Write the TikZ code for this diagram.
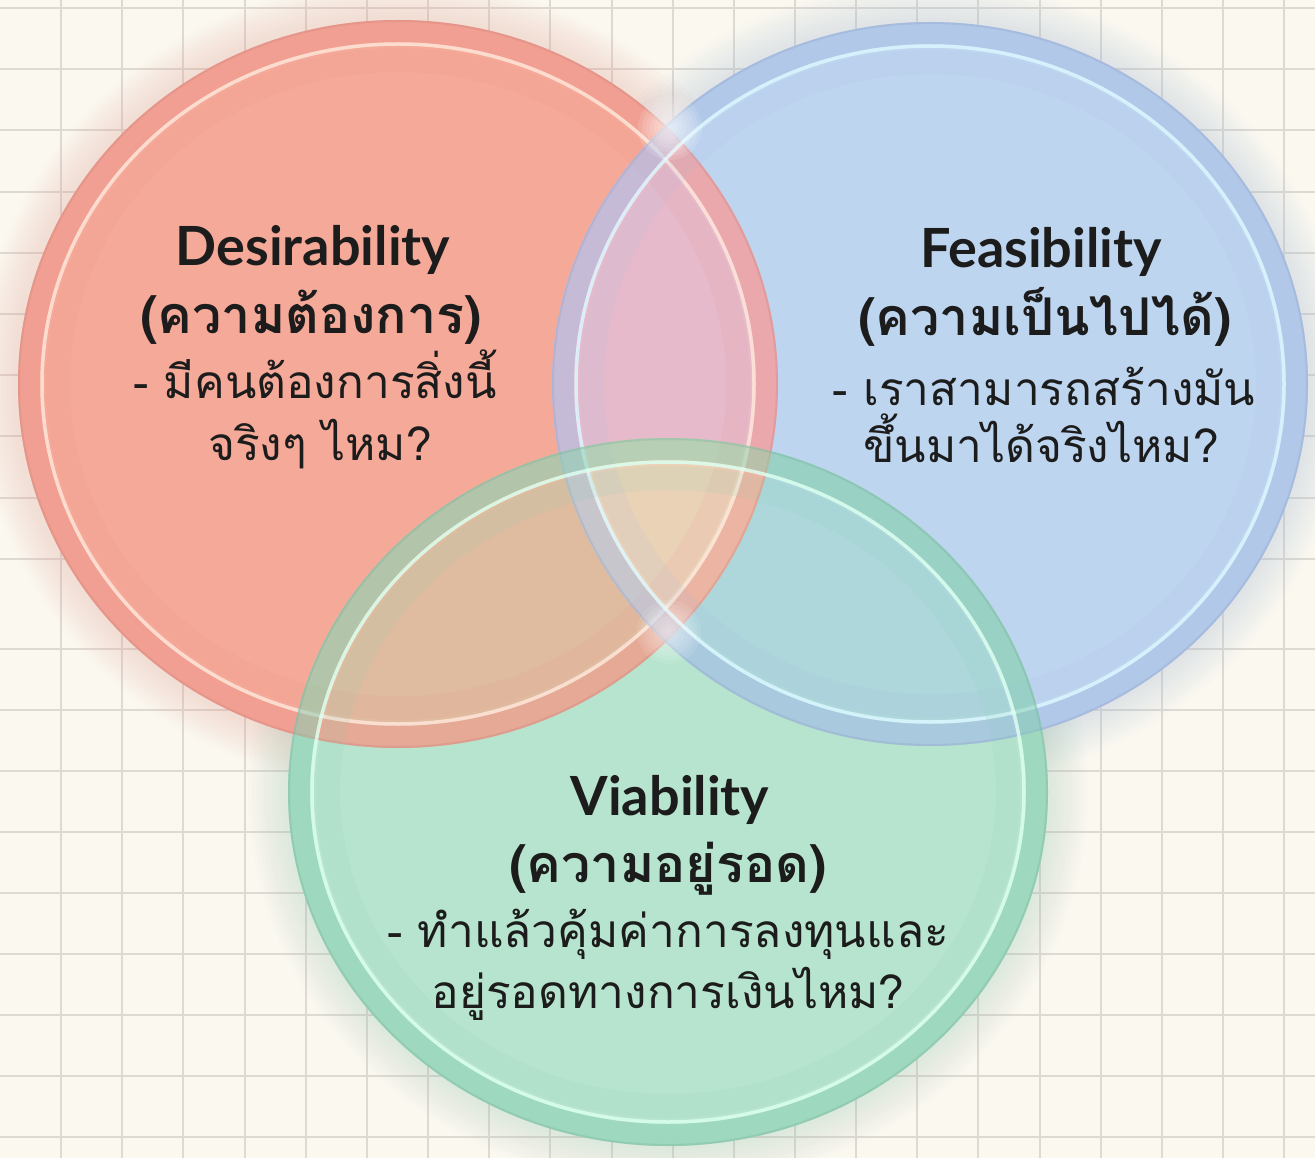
\documentclass[tikz,border=0pt]{standalone}
\usepackage{fontspec}
\setmainfont{Lato}
\newfontfamily\thaifont[Script=Thai]{Loma}

\definecolor{paper}{HTML}{FBF8F0}
\definecolor{gridline}{HTML}{DEDAD2}
\definecolor{ink}{HTML}{1C1C1C}
% circle fills and their overlaps
\definecolor{desfill}{HTML}{F5A998}
\definecolor{feafill}{HTML}{BED5EF}
\definecolor{viafill}{HTML}{B7E4CE}
\definecolor{dfcol}{HTML}{E6BACB}
\definecolor{dvcol}{HTML}{DFBCA0}
\definecolor{fvcol}{HTML}{ADD7DA}
\definecolor{allcol}{HTML}{EAD2B7}
% rims, highlights and shadows
\definecolor{desrim}{HTML}{EE978E}
\definecolor{deshi}{HTML}{FFE6DA}
\definecolor{fearim}{HTML}{A6BCE4}
\definecolor{feahi}{HTML}{DCF7FF}
\definecolor{viarim}{HTML}{86CDB2}
\definecolor{viahi}{HTML}{DAFFEF}
\definecolor{desshadow}{HTML}{E9A79C}
\definecolor{feashadow}{HTML}{A9B9D8}
\definecolor{viashadow}{HTML}{9FCFB6}

\begin{document}
\begin{tikzpicture}[x=1pt,y=-1pt,
  des/.style={insert path={(D) ellipse [x radius={380+(#1)},y radius={364+(#1)}]}},
  des/.default=0,
  fea/.style={insert path={(F) ellipse [x radius={378+(#1)},y radius={362+(#1)}]}},
  fea/.default=0,
  via/.style={insert path={(V) ellipse [x radius={380+(#1)},y radius={354+(#1)}]}},
  via/.default=0,
  title node/.style={anchor=base,inner sep=0pt,text=ink,
    font=\fontsize{54}{60}\selectfont\bfseries},
  thai bold/.style={anchor=base,inner sep=0pt,text=ink,
    font=\fontsize{52}{58}\selectfont\thaifont\bfseries},
  thai node/.style={anchor=base,inner sep=0pt,text=ink,
    font=\fontsize{46}{52}\selectfont\thaifont}]

  \useasboundingbox (0,0) rectangle (1315,1158);
  \fill[paper] (0,0) rectangle (1315,1158);

  % squared paper
  \foreach \i in {1,...,21}
    \draw[gridline,line width=2pt] (61.15*\i,0) -- (61.15*\i,1158);
  \foreach \j in {0,...,9}
    \draw[gridline,line width=2pt] (0,8+61.2*\j) -- (1315,8+61.2*\j);
  \foreach \j in {0,...,8}
    \draw[gridline,line width=2pt] (0,1137-61*\j) -- (1315,1137-61*\j);

  \coordinate (D) at (398,384);
  \coordinate (F) at (930,384);
  \coordinate (V) at (668,792);

  % soft shadows under the discs
  \foreach \d in {4,8,...,40} {
    \fill[desshadow,opacity=.03,yshift=-10pt,des=\d];
    \fill[feashadow,opacity=.03,yshift=-10pt,fea=\d];
    \fill[viashadow,opacity=.03,yshift=-10pt,via=\d];
  }

  % discs
  \fill[desfill,des];
  \fill[feafill,fea];
  \fill[viafill,via];
  \begin{scope}
    \clip[des];
    \fill[dfcol,fea];
  \end{scope}
  \begin{scope}
    \clip[des];
    \fill[dvcol,via];
  \end{scope}
  \begin{scope}
    \clip[fea];
    \fill[fvcol,via];
  \end{scope}
  \begin{scope}
    \clip[des];
    \clip[fea];
    \fill[allcol,via];
  \end{scope}

  % glass rims
  \draw[desrim,line width=22pt,opacity=.5,des=-11];
  \draw[desrim!85!black,line width=2pt,opacity=.3,des=-1];
  \draw[desrim,line width=24pt,opacity=.12,des=-40];
  \draw[deshi,line width=3.5pt,opacity=.85,des=-24];

  \draw[fearim,line width=22pt,opacity=.5,fea=-11];
  \draw[fearim!85!black,line width=2pt,opacity=.3,fea=-1];
  \draw[fearim,line width=24pt,opacity=.12,fea=-40];
  \draw[feahi,line width=3.5pt,opacity=.85,fea=-24];

  \draw[viarim,line width=22pt,opacity=.5,via=-11];
  \draw[viarim!85!black,line width=2pt,opacity=.3,via=-1];
  \draw[viarim,line width=24pt,opacity=.12,via=-40];
  \draw[viahi,line width=3.5pt,opacity=.85,via=-24];

  % glints where the rims cross
  \coordinate (G1) at (670,128);
  \coordinate (G2) at (669,632);
  \foreach \r in {4,8,...,32} {
    \fill[white,opacity=.12] (G1) circle (\r);
    \fill[white,opacity=.09] (G2) circle (\r);
  }

  % Desirability
  \node[title node] (DES) at (313,266) {Desirability};
  \node[thai bold] (DESTH) at (311,334) {(ความต้องการ)};
  \node[thai node] (DESQ1) at (315,398) {- มีคนต้องการสิ่งนี้};
  \node[thai node] (DESQ2) at (320,460) {จริงๆ ไหม?};

  % Feasibility
  \node[title node] (FEA) at (1041,268) {Feasibility};
  \node[thai bold] (FEATH) at (1045,336) {(ความเป็นไปได้)};
  \node[thai node] (FEAQ1) at (1044,405) {- เราสามารถสร้างมัน};
  \node[thai node] (FEAQ2) at (1041,462) {ขึ้นมาได้จริงไหม?};

  % Viability
  \node[title node] (VIA) at (670,815) {Viability};
  \node[thai bold] (VIATH) at (668,882) {(ความอยู่รอด)};
  \node[thai node] (VIAQ1) at (668,947) {- ทำแล้วคุ้มค่าการลงทุนและ};
  \node[thai node] (VIAQ2) at (668,1008) {อยู่รอดทางการเงินไหม?};

\end{tikzpicture}
\end{document}
